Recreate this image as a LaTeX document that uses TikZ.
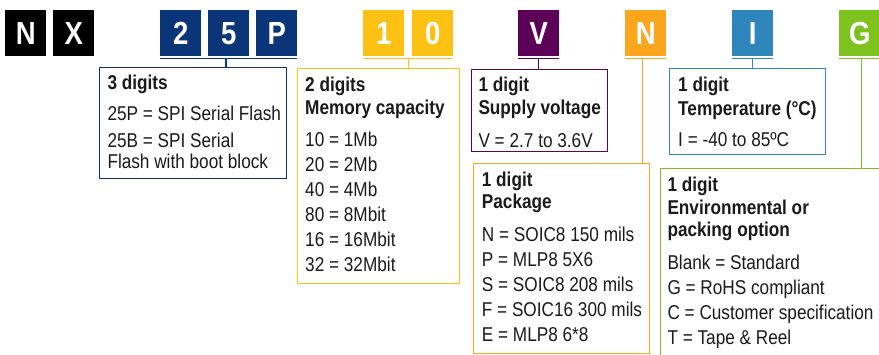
\documentclass[tikz,border=0pt]{standalone}
\usepackage{fontspec}
\setmainfont{Liberation Sans}[FakeStretch=0.86]
\definecolor{cnavy}{HTML}{0B3579}
\definecolor{cyellow}{HTML}{FDC113}
\definecolor{cpurple}{HTML}{5D0057}
\definecolor{corange}{HTML}{FCA61E}
\definecolor{csteel}{HTML}{2E86BC}
\definecolor{cgreen}{HTML}{7DC21E}
\definecolor{ctext}{HTML}{1A1A1A}
\newcommand\Fst[1]{\hbox{\smash{#1}}}
\newcommand\Nxt[2]{\vskip#1pt\hbox{\smash{#2}}}
\tikzset{
  letterbox/.style={fill=#1, minimum width=41pt, minimum height=46pt, anchor=north west, inner sep=0pt, text=white, font=\fontsize{32}{32}\selectfont\bfseries},
  infobox/.style={draw=#1, line width=1.4pt, anchor=north west, inner sep=0pt},
  uline/.style={draw=#1, line width=1.3pt},
  conn/.style={draw=#1, line width=1.2pt},
  infotext/.style={anchor=base west, inner sep=0pt, text=ctext, font=\fontsize{20}{22}\selectfont}
}
\begin{document}
\begin{tikzpicture}[x=1pt,y=-1pt]
\useasboundingbox (0,0) rectangle (879,354);
% letter boxes
\node[letterbox=black] (lN) at (5,10) {N};
\node[letterbox=black] (lX) at (53,10) {X};
\node[letterbox=cnavy] (l2) at (160,10) {2};
\node[letterbox=cnavy] (l5) at (208,10) {5};
\node[letterbox=cnavy] (lP) at (256,10) {P};
\node[letterbox=cyellow] (l1) at (363,10) {1};
\node[letterbox=cyellow] (l0) at (412,10) {0};
\node[letterbox=cpurple] (lV) at (518,10) {V};
\node[letterbox=corange] (lNN) at (625,10) {N};
\node[letterbox=csteel] (lI) at (732,10) {I};
\node[letterbox=cgreen] (lG) at (839,10) {G};
% info boxes
\node[infobox=cnavy, minimum width=187pt, minimum height=111pt] (b1) at (99,67) {};
\node[infobox=cyellow, minimum width=162pt, minimum height=215pt] (b2) at (297,68) {};
\node[infobox=cpurple, minimum width=136pt, minimum height=82pt] (b3) at (471,69) {};
\node[infobox=corange, minimum width=176pt, minimum height=190pt] (b4) at (473,163) {};
\node[infobox=csteel, minimum width=156pt, minimum height=86pt] (b5) at (669,68) {};
\node[infobox=cgreen, minimum width=250pt, minimum height=200pt] (b6) at (660,168) {};
% underlines and connectors
\path ([yshift=-2pt]l2.south west) coordinate (u1a) -- ([yshift=-2pt]lP.south east) coordinate (u1b) coordinate[pos=0.48] (u1m);
\path ([yshift=-2pt]l1.south west) coordinate (u2a) -- ([yshift=-2pt]l0.south east) coordinate (u2b) coordinate[midway] (u2m);
\path ([yshift=-2pt]lV.south west) coordinate (u3a) -- ([yshift=-2pt]lV.south east) coordinate (u3b) coordinate[midway] (u3m);
\path ([yshift=-2pt]lNN.south west) coordinate (u4a) -- ([yshift=-2pt]lNN.south east) coordinate (u4b) coordinate[pos=0.43] (u4m);
\path ([yshift=-2pt]lI.south west) coordinate (u5a) -- ([yshift=-2pt]lI.south east) coordinate (u5b) coordinate[midway] (u5m);
\path ([yshift=-2pt]lG.south west) coordinate (u6a) -- ([yshift=-2pt]lG.south east) coordinate (u6b) coordinate[pos=0.54] (u6m);
\draw[uline=cnavy] (u1a) -- (u1b);
\draw[uline=cyellow] (u2a) -- (u2b);
\draw[uline=cpurple] (u3a) -- (u3b);
\draw[uline=corange] (u4a) -- (u4b);
\draw[uline=csteel] (u5a) -- (u5b);
\draw[uline=cgreen] (u6a) -- (u6b);
\draw[conn=cnavy] (u1m) -- (u1m |- b1.north);
\draw[conn=cyellow] (u2m) -- (u2m |- b2.north);
\draw[conn=cpurple] (u3m) -- (u3m |- b3.north);
\draw[conn=corange] (u4m) -- (u4m |- b4.north);
\draw[conn=csteel] (u5m) -- (u5m |- b5.north);
\draw[conn=cgreen] (u6m) -- (u6m |- b6.north);
% texts
\node[infotext] (t1) at (107.3,89) {\vtop{\offinterlineskip
  \Fst{\bfseries 3 digits}
  \Nxt{31}{25P = SPI Serial Flash}
  \Nxt{27}{25B = SPI Serial}
  \Nxt{21.5}{Flash with boot block}}};
\node[infotext] (t2) at (305,91.7) {\vtop{\offinterlineskip
  \Fst{\bfseries 2 digits}
  \Nxt{22.6}{\bfseries Memory capacity}
  \Nxt{32.4}{10 = 1Mb}
  \Nxt{25}{20 = 2Mb}
  \Nxt{25}{40 = 4Mb}
  \Nxt{25}{80 = 8Mbit}
  \Nxt{25}{16 = 16Mbit}
  \Nxt{25}{32 = 32Mbit}}};
\node[infotext] (t3) at (478.3,91) {\vtop{\offinterlineskip
  \Fst{\bfseries 1 digit}
  \Nxt{23.3}{\bfseries Supply voltage}
  \Nxt{33}{V = 2.7 to 3.6V}}};
\node[infotext] (t4) at (481.7,186.7) {\vtop{\offinterlineskip
  \Fst{\bfseries 1 digit}
  \Nxt{22}{\bfseries Package}
  \Nxt{33}{N = SOIC8 150 mils}
  \Nxt{25}{P = MLP8 5X6}
  \Nxt{25}{S = SOIC8 208 mils}
  \Nxt{25}{F = SOIC16 300 mils}
  \Nxt{25}{E = MLP8 6*8}}};
\node[infotext] (t5) at (678,91.5) {\vtop{\offinterlineskip
  \Fst{\bfseries 1 digit}
  \Nxt{23.5}{\bfseries Temperature (°C)}
  \Nxt{31.5}{I = -40 to 85ºC}}};
\node[infotext] (t6) at (667.3,191.7) {\vtop{\offinterlineskip
  \Fst{\bfseries 1 digit}
  \Nxt{23}{\bfseries Environmental or}
  \Nxt{22}{\bfseries packing option}
  \Nxt{33}{Blank = Standard}
  \Nxt{25}{G = RoHS compliant}
  \Nxt{25}{C = Customer specification}
  \Nxt{25}{T = Tape \& Reel}}};
\end{tikzpicture}
\end{document}
